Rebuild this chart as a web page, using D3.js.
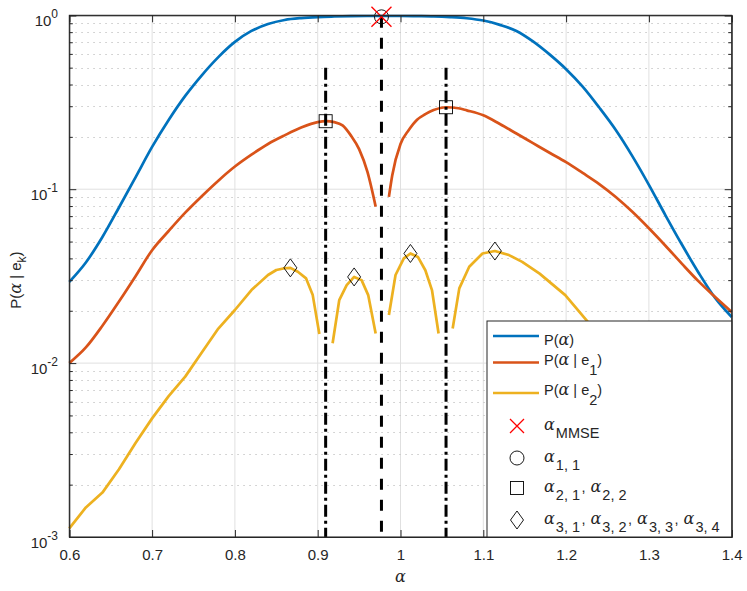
<!DOCTYPE html>
<html><head><meta charset="utf-8">
<script src="https://cdn.jsdelivr.net/npm/d3@7"></script>
<style>
body{margin:0;background:#fff}
svg{display:block}
text{font-family:"Liberation Sans",Arial,Helvetica,sans-serif;fill:#262626}
.g{font-family:"DejaVu Serif",serif;font-style:italic}
</style>
</head><body>
<svg id="c" width="747" height="591"></svg>
<script>
// ---------------- data ----------------
const xTicks = [0.6,0.7,0.8,0.9,1.0,1.1,1.2,1.3,1.4];
const xTickLabels = ["0.6","0.7","0.8","0.9","1","1.1","1.2","1.3","1.4"];
const yTicks = [0.001,0.01,0.1,1];
const yTickExponents = ["-3","-2","-1","0"];

// P(alpha)
const pAlpha = [0.60,0.62,0.64,0.66,0.68,0.70,0.72,0.74,0.76,0.78,0.80,0.82,0.84,0.86,0.88,0.90,0.92,0.94,0.96,0.98,1.00,1.02,1.04,1.06,1.08,1.10,1.12,1.14,1.16,1.18,1.20,1.22,1.24,1.26,1.28,1.30,1.32,1.34,1.36,1.38,1.40];
const pValue = [0.0293,0.0379,0.0531,0.0785,0.117,0.175,0.250,0.344,0.452,0.575,0.703,0.813,0.891,0.940,0.964,0.977,0.984,0.989,0.991,0.991,0.991,0.989,0.986,0.977,0.962,0.933,0.881,0.813,0.708,0.596,0.490,0.389,0.295,0.219,0.155,0.106,0.0708,0.0479,0.0331,0.0237,0.0184];

// P(alpha | e1)  (null = gap)
const e1Alpha = [0.60,0.62,0.64,0.66,0.68,0.70,0.72,0.74,0.76,0.78,0.80,0.82,0.84,0.86,0.88,0.90,0.91,0.92,0.93,0.94,0.95,0.96,0.97,0.978,0.986,0.99,1.00,1.01,1.02,1.03,1.04,1.055,1.07,1.08,1.10,1.12,1.14,1.16,1.18,1.20,1.22,1.24,1.26,1.28,1.30,1.32,1.34,1.36,1.38,1.40];
const e1Value = [0.0100,0.0123,0.0164,0.0226,0.0316,0.0446,0.0575,0.0733,0.0912,0.112,0.135,0.158,0.182,0.204,0.226,0.243,0.246,0.243,0.233,0.204,0.170,0.126,0.0794,null,0.0904,0.120,0.182,0.219,0.251,0.270,0.285,0.296,0.292,0.284,0.266,0.237,0.209,0.184,0.162,0.143,0.124,0.107,0.0902,0.0741,0.0596,0.0473,0.0372,0.0295,0.0240,0.0197];

// P(alpha | e2)
const e2Alpha = [0.60,0.62,0.64,0.66,0.68,0.70,0.72,0.74,0.76,0.78,0.80,0.82,0.84,0.85,0.86,0.867,0.876,0.886,0.894,0.902,0.910,0.918,0.926,0.935,0.944,0.953,0.961,0.970,0.978,0.986,0.994,1.004,1.012,1.021,1.030,1.038,1.046,1.054,1.063,1.071,1.083,1.099,1.114,1.131,1.147,1.168,1.199,1.226,1.25,1.30,1.35,1.40];
const e2Value = [0.00112,0.00148,0.00180,0.00245,0.00347,0.00481,0.00646,0.00836,0.0115,0.0158,0.0202,0.0263,0.0321,0.0343,0.0351,0.0353,0.0335,0.0307,0.0246,0.0147,null,0.0130,0.0230,0.0281,0.0313,0.0300,0.0246,0.0148,null,0.0189,0.0321,0.0400,0.0427,0.0408,0.0342,0.0263,0.0148,null,0.0158,0.0269,0.0358,0.0427,0.0441,0.0418,0.0382,0.0327,0.0246,0.0173,0.0126,0.00708,0.00427,0.00275];

// markers
const mmseAlpha = [0.977], mmseValue = [0.98];
const a1Alpha = [0.977], a1Value = [0.98];
const a2Alpha = [0.9096,1.055], a2Value = [0.246,0.296];
const a3Alpha = [0.867,0.944,1.012,1.114], a3Value = [0.0353,0.0313,0.0427,0.0441];

// vertical reference lines
const dashDotAlpha = [0.9096,1.055], dashDotTop = 0.5;
const dashedAlpha = [0.977], dashedTop = 0.98;
const yBottom = 0.001;

const colors = ["#0072BD","#D95319","#EDB120"];

// ---------------- layout ----------------
const L = 69.3, R = 731.7, T = 15.3, B = 537;
const svg = d3.select("#c");
const x = d3.scaleLinear().domain([0.6,1.4]).range([L,R]);
const y = d3.scaleLog().domain([0.001,1]).range([B,T]);

const minorY = [];
[0.001,0.01,0.1].forEach(d=>{for(let m=2;m<=9;m++) minorY.push(+(m*d).toPrecision(3));});

// grid
const grid = svg.append("g");
grid.selectAll(".vx").data(xTicks).join("line")
  .attr("x1",d=>x(d)).attr("x2",d=>x(d)).attr("y1",T).attr("y2",B)
  .attr("stroke","#e0e0e0").attr("stroke-width",1);
grid.selectAll(".my").data(minorY).join("line")
  .attr("x1",L).attr("x2",R).attr("y1",d=>Math.round(y(d))+0.5).attr("y2",d=>Math.round(y(d))+0.5)
  .attr("stroke","#c8c8c8").attr("stroke-width",1).attr("stroke-dasharray","1.5,4.5");
grid.selectAll(".hy").data(yTicks).join("line")
  .attr("x1",L).attr("x2",R).attr("y1",d=>y(d)).attr("y2",d=>y(d))
  .attr("stroke","#e0e0e0").attr("stroke-width",1);

// curves
const smooth = d3.line().defined(d=>d[1]!==null).x(d=>x(d[0])).y(d=>y(d[1])).curve(d3.curveMonotoneX);
const straight = d3.line().defined(d=>d[1]!==null).x(d=>x(d[0])).y(d=>y(d[1]));
const series = [
  pAlpha.map((a,i)=>[a,pValue[i]]),
  e1Alpha.map((a,i)=>[a,e1Value[i]]),
  e2Alpha.map((a,i)=>[a,e2Value[i]])
];
svg.append("g").selectAll("path").data(series).join("path")
  .attr("d",(d,i)=>i<2?smooth(d):straight(d)).attr("fill","none")
  .attr("stroke",(d,i)=>colors[i]).attr("stroke-width",2.7)
  .attr("stroke-linejoin","round");

// vertical lines
const vl = svg.append("g");
vl.selectAll(".dd").data(dashDotAlpha).join("line")
  .attr("x1",d=>x(d)).attr("x2",d=>x(d)).attr("y1",y(dashDotTop)).attr("y2",y(yBottom))
  .attr("stroke","#000").attr("stroke-width",3).attr("stroke-dasharray","12,4,3,4");
vl.selectAll(".ds").data(dashedAlpha).join("line")
  .attr("x1",d=>x(d)).attr("x2",d=>x(d)).attr("y1",y(dashedTop)).attr("y2",y(yBottom))
  .attr("stroke","#000").attr("stroke-width",3).attr("stroke-dasharray","11,10");

// markers
const mk = svg.append("g").attr("fill","none");
function xMark(g,cx,cy,h,col){
  g.append("path").attr("d",`M${cx-h},${cy-h}L${cx+h},${cy+h}M${cx-h},${cy+h}L${cx+h},${cy-h}`)
   .attr("stroke",col).attr("stroke-width",1.3);
}
function diamond(g,cx,cy){
  g.append("path").attr("d",`M${cx},${cy-9}L${cx+6.5},${cy}L${cx},${cy+9}L${cx-6.5},${cy}Z`)
   .attr("stroke","#000").attr("stroke-width",0.9).attr("fill","none");
}
function square(g,cx,cy){
  g.append("rect").attr("x",cx-6.5).attr("y",cy-6.5).attr("width",13).attr("height",13)
   .attr("stroke","#000").attr("stroke-width",0.9).attr("fill","none");
}
function circ(g,cx,cy){
  g.append("circle").attr("cx",cx).attr("cy",cy).attr("r",7)
   .attr("stroke","#000").attr("stroke-width",0.9).attr("fill","none");
}
a2Alpha.forEach((a,i)=>square(mk,x(a),y(a2Value[i])));
a3Alpha.forEach((a,i)=>diamond(mk,x(a),y(a3Value[i])));
a1Alpha.forEach((a,i)=>circ(mk,x(a),y(a1Value[i])));
mmseAlpha.forEach((a,i)=>xMark(mk,x(a),y(mmseValue[i]),10,"#ff0000"));

// axes
const axCol = "#262626";
const gB = svg.append("g").attr("transform",`translate(0,${B})`)
  .call(d3.axisBottom(x).tickValues(xTicks).tickSize(-7).tickPadding(12).tickFormat((d,i)=>xTickLabels[i]));
const gT = svg.append("g").attr("transform",`translate(0,${T})`)
  .call(d3.axisTop(x).tickValues(xTicks).tickSize(-7).tickFormat(""));
const gL = svg.append("g").attr("transform",`translate(${L},0)`)
  .call(d3.axisLeft(y).tickValues(yTicks).tickSize(-7).tickFormat(""));
const gLm = svg.append("g").attr("transform",`translate(${L},0)`)
  .call(d3.axisLeft(y).tickValues(minorY).tickSize(-3.5).tickFormat(""));
const gR = svg.append("g").attr("transform",`translate(${R},0)`)
  .call(d3.axisRight(y).tickValues(yTicks).tickSize(-7).tickFormat(""));
const gRm = svg.append("g").attr("transform",`translate(${R},0)`)
  .call(d3.axisRight(y).tickValues(minorY).tickSize(-3.5).tickFormat(""));
[gB,gT,gL,gLm,gR,gRm].forEach(g=>{
  g.select(".domain").attr("stroke",axCol).attr("stroke-width",1);
  g.selectAll(".tick line").attr("stroke",axCol).attr("stroke-width",1);
});
gB.selectAll(".tick text").attr("font-size",15).attr("fill",axCol)
  .attr("font-family","'Liberation Sans',Arial,sans-serif");
[gLm,gRm].forEach(g=>g.select(".domain").remove());
svg.append("rect").attr("x",L).attr("y",T).attr("width",R-L).attr("height",B-T)
  .attr("fill","none").attr("stroke",axCol).attr("stroke-width",1);

// y tick labels 10^n
const yl = svg.append("g");
yTicks.forEach((v,i)=>{
  const t = yl.append("text").attr("x",58).attr("y",y(v)+10.5).attr("text-anchor","end").attr("font-size",15);
  t.append("tspan").text("10");
  t.append("tspan").attr("dy",-7.5).attr("font-size",12).text(yTickExponents[i]);
});

// axis labels
svg.append("text").attr("x",(L+R)/2).attr("y",582).attr("text-anchor","middle")
  .attr("class","g").attr("font-size",16).text("α");
const ylab = svg.append("text").attr("transform",`translate(21,${(T+B)/2+4}) rotate(-90)`)
  .attr("text-anchor","middle").attr("font-size",15);
ylab.append("tspan").text("P(");
ylab.append("tspan").attr("class","g").attr("font-size",16).text("α");
ylab.append("tspan").text(" | e");
ylab.append("tspan").attr("dy",5).attr("font-size",12).text("k");
ylab.append("tspan").attr("dy",-5).text(")");

// legend
const lg = svg.append("g");
lg.append("rect").attr("x",487).attr("y",321).attr("width",R-487).attr("height",B-321)
  .attr("fill","#fff").attr("stroke",axCol).attr("stroke-width",1);
const lineRows = [336,362.5,393];
const lineBase = [345,364.7,394.7];
const lineSubs = [null,"1","2"];
lineRows.forEach((ry,i)=>{
  lg.append("line").attr("x1",493).attr("x2",539).attr("y1",ry).attr("y2",ry)
    .attr("stroke",colors[i]).attr("stroke-width",2.7);
  const t = lg.append("text").attr("x",544).attr("y",lineBase[i]).attr("font-size",14.5);
  t.append("tspan").text("P(");
  t.append("tspan").attr("class","g").attr("font-size",16).text("α");
  if(lineSubs[i]){
    t.append("tspan").text(" | e");
    t.append("tspan").attr("dy",10.5).text(lineSubs[i]);
    t.append("tspan").attr("dy",-10.5).text(")");
  } else t.append("tspan").text(")");
});
const mRows = [426,458,488,520];
xMark(lg,517,mRows[0],7,"#ff0000");
circ(lg,517,mRows[1]);
square(lg,517,mRows[2]);
diamond(lg,517,mRows[3]);
const mSubs = [["MMSE"],["1, 1"],["2, 1","2, 2"],["3, 1","3, 2","3, 3","3, 4"]];
mRows.forEach((ry,i)=>{
  const t = lg.append("text").attr("x",544).attr("y",ry+3.5).attr("font-size",14.5);
  mSubs[i].forEach((s,j)=>{
    if(j>0) t.append("tspan").attr("dy",-8).attr("dx",1.5).text(",");
    t.append("tspan").attr("class","g").attr("font-size",16).attr("dx",j>0?5:0).text("α");
    t.append("tspan").attr("dx",1).attr("dy",8).text(s);
  });
});
</script>
</body></html>
